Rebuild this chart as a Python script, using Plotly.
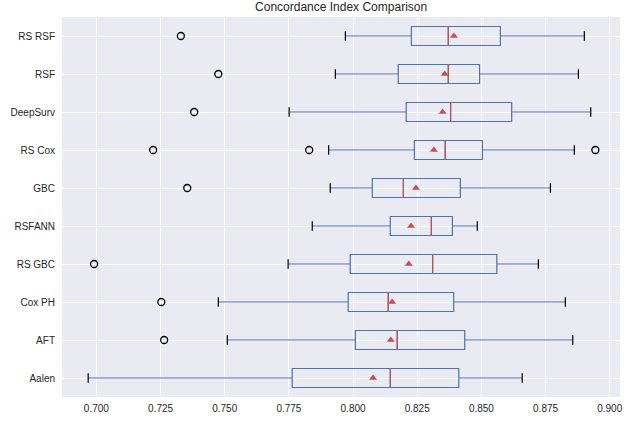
import plotly.graph_objects as go

categories = ["Aalen", "AFT", "Cox PH", "RS GBC", "RSFANN", "GBC", "RS Cox", "DeepSurv", "RSF", "RS RSF"]
lower_whisker = [0.6968, 0.7510, 0.7475, 0.7747, 0.7841, 0.7911, 0.7905, 0.7751, 0.7931, 0.7970]
q1 = [0.7763, 0.8009, 0.7981, 0.7989, 0.8145, 0.8075, 0.8239, 0.8207, 0.8176, 0.8227]
median = [0.8145, 0.8172, 0.8137, 0.8310, 0.8305, 0.8196, 0.8359, 0.8380, 0.8371, 0.8371]
mean = [0.8078, 0.8147, 0.8152, 0.8217, 0.8226, 0.8245, 0.8315, 0.8349, 0.8357, 0.8393]
q3 = [0.8412, 0.8435, 0.8392, 0.8560, 0.8387, 0.8418, 0.8504, 0.8618, 0.8493, 0.8574]
upper_whisker = [0.8659, 0.8856, 0.8827, 0.8722, 0.8484, 0.8769, 0.8862, 0.8926, 0.8878, 0.8901]
outliers = [[], [0.7264], [0.7253], [0.6991], [], [0.7354], [0.7221, 0.7829, 0.8944], [0.7381], [0.7475], [0.7329]]
x_ticks = [0.700, 0.725, 0.750, 0.775, 0.800, 0.825, 0.850, 0.875, 0.900]

BLUE = "#4c72b0"
RED = "#c44e52"
pos = list(range(1, len(categories) + 1))
half = 0.25

fig = go.Figure()
fig.add_trace(go.Box(
    y=pos, q1=q1, median=median, q3=q3,
    lowerfence=lower_whisker, upperfence=upper_whisker,
    orientation="h", width=0.5, whiskerwidth=0,
    line=dict(color=BLUE, width=1.2), fillcolor="rgba(0,0,0,0)",
    boxpoints=False, hoverinfo="skip", showlegend=False,
))

# medians (red lines across box)
mx, my = [], []
for p, m in zip(pos, median):
    mx += [m, m, None]
    my += [p - half, p + half, None]
fig.add_trace(go.Scatter(x=mx, y=my, mode="lines", line=dict(color=RED, width=1.2),
                         showlegend=False, hoverinfo="skip"))

# whisker caps
cx, cy = [], []
for p, lo, hi in zip(pos, lower_whisker, upper_whisker):
    for v in (lo, hi):
        cx += [v, v, None]
        cy += [p - half / 2, p + half / 2, None]
fig.add_trace(go.Scatter(x=cx, y=cy, mode="lines", line=dict(color="black", width=1.2),
                         showlegend=False, hoverinfo="skip"))

# means
fig.add_trace(go.Scatter(x=mean, y=pos, mode="markers",
                         marker=dict(symbol="triangle-up", color=RED, size=7),
                         showlegend=False, hoverinfo="skip"))

# outliers
ox, oy = [], []
for p, outs in zip(pos, outliers):
    for v in outs:
        ox.append(v)
        oy.append(p)
fig.add_trace(go.Scatter(x=ox, y=oy, mode="markers",
                         marker=dict(symbol="circle-open", color="black", size=7, line=dict(width=1.3)),
                         showlegend=False, hoverinfo="skip"))

fig.update_layout(
    width=637, height=425,
    margin=dict(l=62, r=17, t=17, b=28, autoexpand=False),
    paper_bgcolor="white", plot_bgcolor="#EAEAF2",
    font=dict(family="Liberation Sans, Arial, sans-serif", size=10, color="#262626"),
    title=dict(text="Concordance Index Comparison", x=0.5355, xanchor="center",
               y=0.995, yanchor="top", font=dict(size=12, color="#262626")),
)
fig.update_xaxes(range=[0.6866, 0.904], tickvals=x_ticks,
                 ticktext=[f"{t:.3f}" for t in x_ticks],
                 showgrid=True, gridcolor="white", gridwidth=1, zeroline=False,
                 showline=False, ticks="", ticklabelstandoff=4, automargin=False)
fig.update_yaxes(range=[0.5, 10.5], tickvals=pos, ticktext=categories,
                 showgrid=True, gridcolor="white", gridwidth=1, zeroline=False,
                 showline=False, ticks="", ticklabelstandoff=6, automargin=False)

fig.write_html("out.html", config={"displayModeBar": False},
               post_script="document.body.style.margin='0';")
